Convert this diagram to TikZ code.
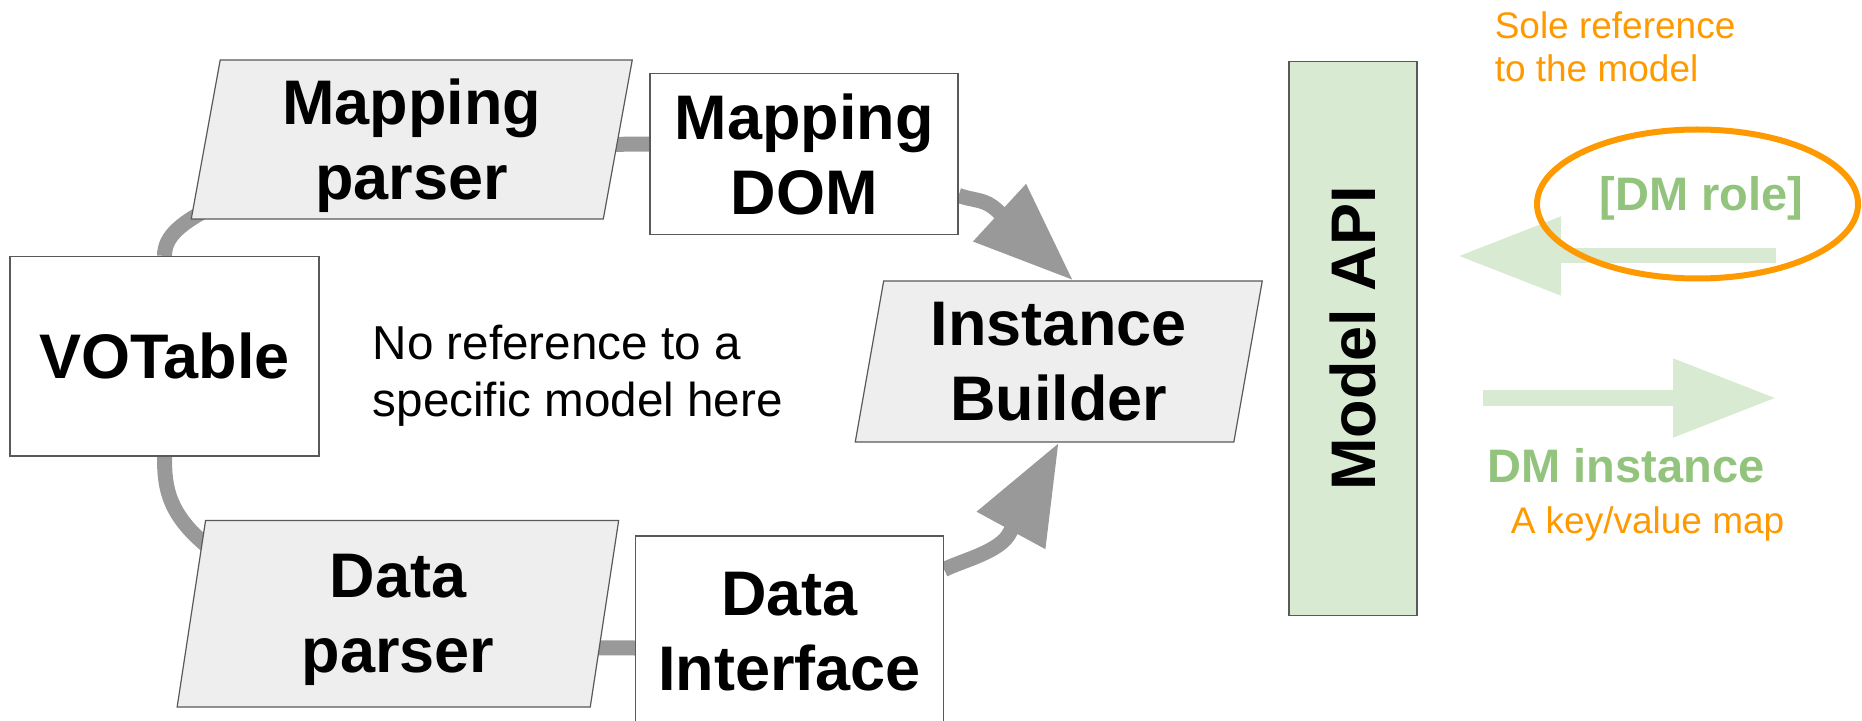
\documentclass[tikz,border=0pt]{standalone}
\usepackage{fontspec}
\setmainfont{Liberation Sans}
\usetikzlibrary{shapes.geometric,arrows.meta,calc,backgrounds}

\definecolor{flowgray}{HTML}{999999}
\definecolor{boxline}{HTML}{595959}
\definecolor{slantfill}{HTML}{EEEEEE}
\definecolor{apigreen}{HTML}{D9EAD3}
\definecolor{dmgreen}{HTML}{93C47D}
\definecolor{noteorange}{HTML}{FF9900}

\tikzset{every picture/.style={line width=0.75pt}}
\tikzset{
  plainbox/.style={draw=boxline, fill=white, line width=0.6pt, inner sep=0pt, align=center,
    font=\fontsize{31.5}{37.5}\selectfont\bfseries},
  slantbox/.style={plainbox, fill=slantfill, trapezium, trapezium left angle=76.5,
    trapezium right angle=103.5, trapezium stretches body, text depth=0pt},
  flow/.style={draw=flowgray, line width=7.5pt},
  bigtip/.style={-{Triangle[length=50pt,width=37pt]}},
  dmarrow/.style={draw=apigreen, line width=7.5pt, -{Triangle[length=51.5pt,width=37.5pt]}},
  greenlabel/.style={text=dmgreen, inner sep=0pt, font=\fontsize{23.5}{28}\selectfont\bfseries},
  orangenote/.style={text=noteorange, inner sep=0pt, align=left, font=\fontsize{18.5}{21.5}\selectfont},
}

\begin{document}
\begin{tikzpicture}[x=0.5pt,y=0.5pt,yscale=-1,xscale=1]
\useasboundingbox (0,0) rectangle (1862,721);

%Shape: Rectangle
\node[plainbox, minimum width=154.5pt, minimum height=99.75pt] (vot) at (164.5,356.25) {VOTable};
%Shape: Parallelogram
\node[slantbox, minimum width=220.5pt, minimum height=79.5pt] (mparser) at (411.75,139.5) {Mapping\\parser};
%Shape: Rectangle
\node[plainbox, minimum width=154pt, minimum height=80.5pt] (mdom) at (804,154) {Mapping\\DOM};
%Shape: Parallelogram
\node[slantbox, minimum width=203.5pt, minimum height=80.5pt] (ib) at (1058.75,361.5) {Instance\\Builder};
%Shape: Parallelogram
\node[slantbox, minimum width=220.75pt, minimum height=93.25pt] (dparser) at (397.9,613.8) {Data\\parser};
%Shape: Rectangle
\node[plainbox, minimum width=154pt, minimum height=96pt] (di) at (789.5,632) {Data\\Interface};
%Shape: Rectangle
\node[plainbox, fill=apigreen, rotate=90, minimum width=277pt, minimum height=64pt] (api) at (1353,338.5) {Model API};

\begin{scope}[on background layer]
%Curve Lines
\draw[flow] (vot.north) .. controls ($(vot.north)+(0,-20)$) and ($(mparser.bottom left corner)+(-9,3)$) .. ($(mparser.bottom left corner)+(24,-14)$);
%Straight Lines
\draw[flow] ($(mparser.right side)+(-20,5)$) -- ($(mdom.west)+(0,-10)$);
%Curve Lines
\draw[flow,bigtip] (mdom.-15) .. controls ($(mdom.-15)+(17,6)$) and ($(ib.top side)+(-89,-82)$) .. ($(ib.top side)+(-76,-70)$) -- (ib.top side);
%Curve Lines
\draw[flow] (vot.south) .. controls ($(vot.south)+(0,30)$) and ($(dparser.top left corner)+(-38,-5)$) .. ($(dparser.top left corner)+(7,30)$);
%Straight Lines
\draw[flow] ($(dparser.right side)+(-20,34)$) -- ($(di.west)+(0,16)$);
%Curve Lines
\draw[flow,bigtip] (di.22) .. controls ($(di.22)+(18,-9)$) and ($(ib.south)+(-58,109)$) .. ($(ib.south)+(-49,90)$) -- (ib.south);
\end{scope}

% Text Node
\node[anchor=north west, inner sep=0pt, align=left, font=\fontsize{23.8}{28.5}\selectfont] (nomodel) at (372,324) {No reference to a\\specific model here};

%Straight Lines
\coordinate (roletail) at (1776,256);
\coordinate (roletip) at (1458,256);
\draw[dmarrow] (roletail) -- (roletip);
\coordinate (insttail) at (1483,398);
\coordinate (insttip) at (1776,398);
\draw[dmarrow] (insttail) -- (insttip);

%Shape: Ellipse
\node[ellipse, draw=noteorange, line width=3pt, inner sep=0pt, minimum width=160.5pt, minimum height=74.5pt] (roleoval) at (1697.5,204) {};

% Text Node
\node[greenlabel, anchor=base west] (role) at (1599,210.5) {[DM role]};
% Text Node
\node[greenlabel, anchor=base west] (dminst) at (1487,482) {DM instance};
% Text Node
\node[orangenote, anchor=base west] (kvmap) at (1510,533) {A key/value map};
% Text Node
\node[orangenote, anchor=north west] (sole) at (1494,11) {Sole reference\\to the model};

\end{tikzpicture}
\end{document}
